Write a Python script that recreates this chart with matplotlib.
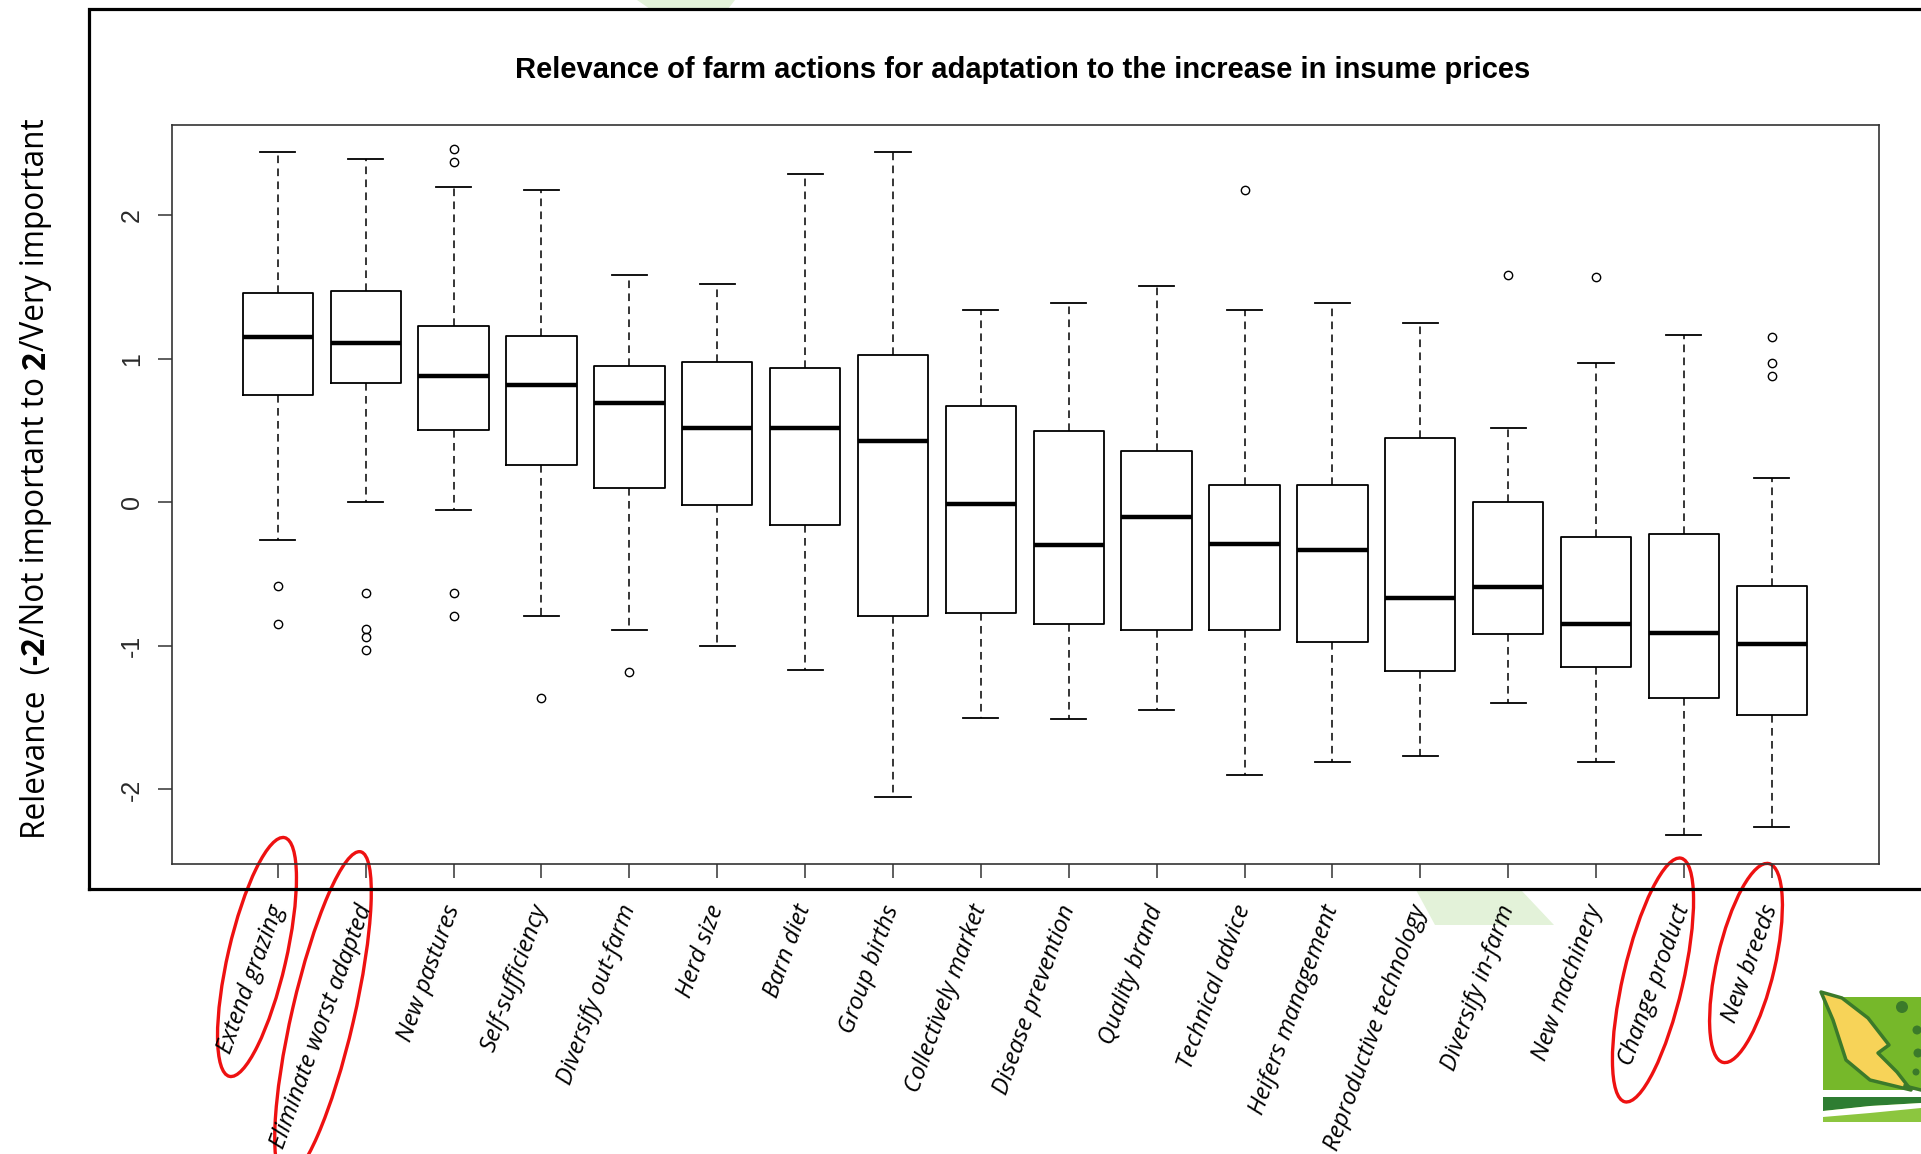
import numpy as np
import matplotlib
matplotlib.use('Agg')
import matplotlib.pyplot as plt
from matplotlib.patches import Ellipse, Polygon, Rectangle, Circle

# farm actions, ordered as in the original R boxplot
labels = ["Extend grazing", "Eliminate worst adapted", "New pastures", "Self-sufficiency",
          "Diversify out-farm", "Herd size", "Barn diet", "Group births",
          "Collectively market", "Disease prevention", "Quality brand", "Technical advice",
          "Heifers management", "Reproductive technology", "Diversify in-farm",
          "New machinery", "Change product", "New breeds"]

whishi = [2.44, 2.39, 2.20, 2.18, 1.585, 1.525, 2.29, 2.44, 1.34, 1.39, 1.505, 1.34,
          1.39, 1.25, 0.52, 0.97, 1.17, 0.17]
q3 = [1.46, 1.47, 1.23, 1.16, 0.95, 0.98, 0.94, 1.03, 0.675, 0.495, 0.36, 0.12,
      0.12, 0.45, 0.0, -0.24, -0.22, -0.58]
med = [1.15, 1.11, 0.88, 0.82, 0.69, 0.52, 0.515, 0.425, -0.01, -0.30, -0.10, -0.29,
       -0.33, -0.667, -0.59, -0.85, -0.91, -0.99]
q1 = [0.75, 0.83, 0.505, 0.26, 0.10, -0.02, -0.16, -0.79, -0.77, -0.85, -0.89, -0.89,
      -0.97, -1.175, -0.92, -1.15, -1.36, -1.48]
whislo = [-0.26, 0.0, -0.05, -0.79, -0.89, -1.0, -1.17, -2.05, -1.50, -1.51, -1.45, -1.90,
          -1.81, -1.77, -1.395, -1.81, -2.32, -2.26]
outliers = [[-0.58, -0.85], [-0.63, -0.88, -0.94, -1.03], [2.46, 2.37, -0.63, -0.79],
            [-1.36], [-1.18], [], [], [], [], [], [], [2.18], [], [], [1.585], [1.57], [],
            [1.15, 0.97, 0.88]]

yticks = [-2, -1, 0, 1, 2]
title = "Relevance of farm actions for adaptation to the increase in insume prices"
# y label pieces, bold where the scale ends are named
ylab_parts = [("Relevance  (", 'normal'), ("-2", 'bold'), ("/Not important to ", 'normal'),
              ("2", 'bold'), ("/Very important", 'normal')]

W, H = 1921, 1154
fig = plt.figure(figsize=(W / 100, H / 100), dpi=100)

# pixel overlay for frame, watermark, logo and red marks
bg = fig.add_axes([0, 0, 1, 1], zorder=0)
bg.set_xlim(0, W)
bg.set_ylim(H, 0)
bg.axis('off')

bg.add_patch(Polygon([(637, 0), (735, 0), (728, 9), (650, 9)], color='#e3f2d9', lw=0))
bg.add_patch(Polygon([(1416, 890), (1521, 890), (1554, 925), (1435, 925)], color='#e3f2d9', lw=0))

bg.plot([89, 89, W], [889, 9, 9], color='black', lw=2.3, solid_joinstyle='miter')
bg.plot([89, W], [889, 889], color='black', lw=2.3, solid_capstyle='projecting')

# logo, bottom right
bg.add_patch(Rectangle((1823, 997), 100, 93, color='#76b82a', lw=0))
bg.add_patch(Polygon([(1821, 992), (1842, 998), (1868, 1018), (1889, 1045), (1878, 1053),
                      (1897, 1072), (1911, 1090), (1870, 1080), (1846, 1060), (1833, 1020)],
                     facecolor='#f7d358', edgecolor='#3b7a2a', lw=2.5, joinstyle='round'))
bg.plot([1905, 1921], [1086, 1090], color='#3b7a2a', lw=2.5)
for cx, cy, r in [(1902, 1007, 6), (1917, 1030, 4.5), (1918, 1053, 4.5), (1916, 1072, 3.5)]:
    bg.add_patch(Circle((cx, cy), r, color='#3b7a2a', lw=0))
bg.add_patch(Rectangle((1823, 1097), 100, 25, color='#8cc63f', lw=0))
bg.add_patch(Polygon([(1823, 1097), (1921, 1097), (1921, 1103), (1870, 1106), (1823, 1111)],
                     color='#2e7d32', lw=0))
bg.add_patch(Polygon([(1823, 1111), (1870, 1106), (1921, 1103), (1921, 1108), (1870, 1113),
                      (1823, 1117)], color='white', lw=0))

# red highlight ellipses (centre x, centre y, length, width)
for cx, cy, ln, wd in [(257, 957, 245, 58), (323, 1015, 335, 62),
                       (1653, 980, 250, 60), (1746, 963, 204, 58)]:
    bg.add_patch(Ellipse((cx, cy), ln, wd, angle=-77, fill=False, edgecolor='#ee1111', lw=2.4))

ax = fig.add_axes([171.5 / W, 1 - 864 / H, (1879 - 171.5) / W, (864 - 125) / H], zorder=1)
ax.patch.set_alpha(0)

stats = []
for i in range(len(labels)):
    stats.append(dict(med=med[i], q1=q1[i], q3=q3[i], whislo=whislo[i], whishi=whishi[i],
                      fliers=outliers[i], label=labels[i]))
pos = np.arange(1, len(labels) + 1)
ax.bxp(stats, positions=pos, widths=0.8, capwidths=0.4, showfliers=True,
       boxprops=dict(color='black', lw=1.3),
       medianprops=dict(color='black', lw=3.2, solid_capstyle='butt'),
       whiskerprops=dict(color='black', lw=1.1, linestyle=(0, (5, 3.5))),
       capprops=dict(color='black', lw=1.3),
       flierprops=dict(marker='o', markerfacecolor='none', markeredgecolor='black',
                       markersize=6, markeredgewidth=1))

ax.set_xlim(-0.21, 19.22)
ax.set_ylim(-2.52, 2.63)
ax.set_yticks(yticks)
ax.set_yticklabels([str(v) for v in yticks])
ax.set_xticks(pos)
ax.set_xticklabels(labels)
ax.tick_params(length=10, width=1.1, color='#333333')
ax.tick_params(axis='x', pad=20, labelsize=17.3)
ax.tick_params(axis='y', pad=10, labelsize=18, labelcolor='#2a2a2a')
for lab in ax.get_yticklabels():
    lab.set(rotation=90, va='center', family='Liberation Sans', fontsize=18)
plt.setp(ax.get_xticklabels(), rotation=70, ha='right', va='center', rotation_mode='anchor',
         fontstyle='italic', family='Open Sans')
for s in ax.spines.values():
    s.set_color('#333333')
    s.set_linewidth(1.2)

fig.text(1023 / W, 1 - 70 / H, title, ha='center', va='center', fontsize=21, fontweight='bold',
         family='Liberation Sans')

# y label built from pieces, stacked bottom to top
t = bg.text(36, 839, ylab_parts[0][0], rotation=90, ha='center', va='bottom', fontsize=22.7,
            family='Open Sans')
for s, w in ylab_parts[1:]:
    t = bg.annotate(s, xy=(0.5, 1), xycoords=t, rotation=90, ha='center', va='bottom',
                    fontsize=22.7, fontweight=w, family='Open Sans', annotation_clip=False)

fig.savefig('out.png', dpi=100)
